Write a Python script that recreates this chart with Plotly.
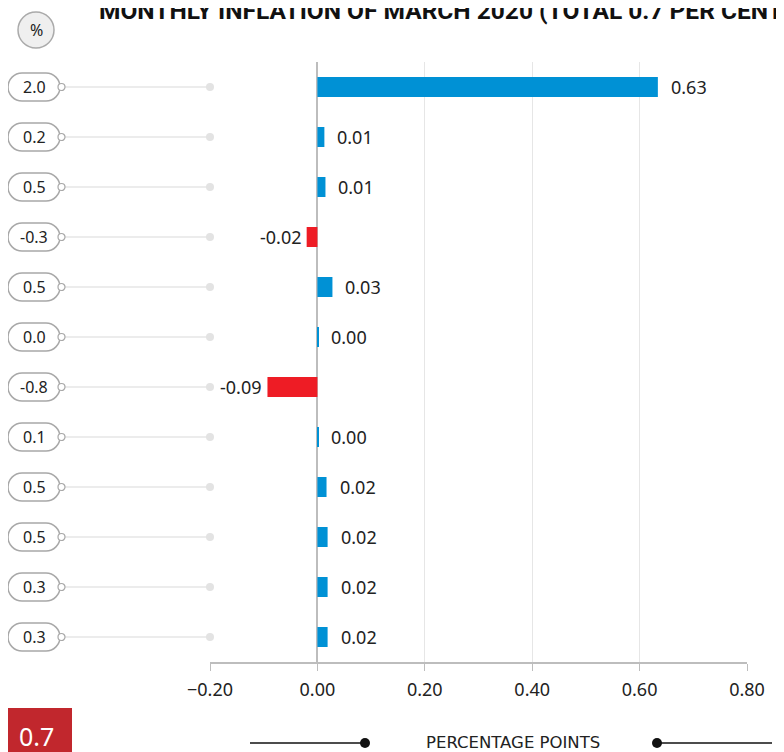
import plotly.graph_objects as go

# ---------------- data ----------------
change_pct = ["2.0", "0.2", "0.5", "-0.3", "0.5", "0.0", "-0.8", "0.1", "0.5", "0.5", "0.3", "0.3"]
contribution = [0.634, 0.013, 0.015, -0.02, 0.028, 0.002, -0.093, 0.002, 0.017, 0.019, 0.019, 0.019]
contribution_labels = ["0.63", "0.01", "0.01", "-0.02", "0.03", "0.00", "-0.09", "0.00", "0.02", "0.02", "0.02", "0.02"]
x_ticks = [-0.2, 0.0, 0.2, 0.4, 0.6, 0.8]
total_label = "0.7"
title_text = "MONTHLY INFLATION OF MARCH 2020 (TOTAL 0.7 PER CENT)"
unit_label = "PERCENTAGE POINTS"

# ---------------- layout helpers ----------------
W, H = 784, 752
OFF = 8  # page body margin of the browser
ML, MT = 202, 54
PW, PH = 537, 600
MR = W - ML - PW
MB = H - MT - PH


def px_x(p):
    """screen x pixel -> paper x"""
    return (p - OFF - ML) / PW


def px_y(p):
    """screen y pixel -> paper y"""
    return (MT + PH - (p - OFF)) / PH


BLUE = "#0091d5"
RED = "#ee1c25"
FONT = "Noto Sans, sans-serif"
TXT = "#222222"

rows = list(range(len(contribution)))
colors = [BLUE if v >= 0 else RED for v in contribution]

fig = go.Figure()
fig.add_trace(go.Bar(
    x=contribution, y=rows, orientation="h", width=0.4,
    marker=dict(color=colors, line=dict(width=0)),
    hoverinfo="skip", showlegend=False,
))
# dots on the -0.20 gridline
fig.add_trace(go.Scatter(
    x=[x_ticks[0]] * len(rows), y=rows, mode="markers",
    marker=dict(size=8, color="#e3e3e3"), cliponaxis=False,
    hoverinfo="skip", showlegend=False,
))


def stadium(w, h):
    r = h / 2
    k = 0.5523 * r
    hw = w / 2
    sx = hw - r
    return (f"M {-sx},{r} L {sx},{r} C {sx + k},{r} {hw},{k} {hw},0 "
            f"C {hw},{-k} {sx + k},{-r} {sx},{-r} L {-sx},{-r} "
            f"C {-sx - k},{-r} {-hw},{-k} {-hw},0 C {-hw},{k} {-sx - k},{r} {-sx},{r} Z")


shapes = []
annotations = []
pill_path = stadium(52, 28)
for i, lab in zip(rows, change_pct):
    shapes.append(dict(type="line", xref="paper", yref="y", x0=px_x(65), x1=0, y0=i, y1=i,
                       line=dict(color="#e6e6e6", width=1.5), layer="below"))
    shapes.append(dict(type="path", xref="paper", yref="y", xsizemode="pixel", ysizemode="pixel",
                       xanchor=px_x(34), yanchor=i, path=pill_path,
                       fillcolor="white", line=dict(color="#a8a8a8", width=1.5)))
    shapes.append(dict(type="circle", xref="paper", yref="y", xsizemode="pixel", ysizemode="pixel",
                       xanchor=px_x(61.5), yanchor=i, x0=-3.5, x1=3.5, y0=-3.5, y1=3.5,
                       fillcolor="white", line=dict(color="#a8a8a8", width=1.2)))
    annotations.append(dict(xref="paper", yref="y", x=px_x(34), y=i, text=lab, showarrow=False,
                            font=dict(family=FONT, size=16, color=TXT), xanchor="center", yanchor="middle"))

for i, v, lab in zip(rows, contribution, contribution_labels):
    if v >= 0:
        annotations.append(dict(x=v, y=i, xref="x", yref="y", text=lab, showarrow=False,
                                xanchor="left", xshift=11, yanchor="middle",
                                font=dict(family=FONT, size=18, color=TXT)))
    else:
        annotations.append(dict(x=v, y=i, xref="x", yref="y", text=lab, showarrow=False,
                                xanchor="right", xshift=-3, yanchor="middle",
                                font=dict(family=FONT, size=18, color=TXT)))

# "%" badge
shapes.append(dict(type="circle", xref="paper", yref="paper", xsizemode="pixel", ysizemode="pixel",
                   xanchor=px_x(36), yanchor=px_y(30), x0=-18, x1=18, y0=-18, y1=18,
                   fillcolor="#efefef", line=dict(color="#aaaaaa", width=1.5)))
annotations.append(dict(xref="paper", yref="paper", x=px_x(36), y=px_y(30), text="%", showarrow=False,
                        font=dict(family=FONT, size=16, color=TXT), xanchor="center", yanchor="middle"))

# title (partly cut off at the top, as in the reference)
annotations.append(dict(xref="paper", yref="paper", x=px_x(97), y=px_y(10), text=f"<b>{title_text}</b>",
                        showarrow=False, xanchor="left", yanchor="middle",
                        font=dict(family="Roboto, sans-serif", size=24.5, color="#111111")))

# total box
shapes.append(dict(type="rect", xref="paper", yref="paper", x0=px_x(0), x1=px_x(72), y0=px_y(708), y1=px_y(770),
                   fillcolor="#c1272d", line=dict(width=0)))
annotations.append(dict(xref="paper", yref="paper", x=px_x(36), y=px_y(736), text=total_label, showarrow=False,
                        font=dict(family=FONT, size=25, color="white"), xanchor="center", yanchor="middle"))

# unit label with lines and dots
annotations.append(dict(xref="paper", yref="paper", x=px_x(513), y=px_y(742), text=unit_label, showarrow=False,
                        font=dict(family="DejaVu Sans, sans-serif", size=16.5, color=TXT),
                        xanchor="center", yanchor="middle"))
shapes.append(dict(type="line", xref="paper", yref="paper", x0=px_x(250), x1=px_x(365), y0=px_y(743), y1=px_y(743),
                   line=dict(color="#111111", width=1.5)))
shapes.append(dict(type="line", xref="paper", yref="paper", x0=px_x(657), x1=px_x(772), y0=px_y(743), y1=px_y(743),
                   line=dict(color="#111111", width=1.5)))
for cx in (365, 657):
    shapes.append(dict(type="circle", xref="paper", yref="paper", xsizemode="pixel", ysizemode="pixel",
                       xanchor=px_x(cx), yanchor=px_y(743), x0=-5, x1=5, y0=-5, y1=5,
                       fillcolor="#111111", line=dict(width=0)))

fig.update_layout(
    width=W, height=H,
    margin=dict(l=ML, r=MR, t=MT, b=MB),
    paper_bgcolor="white", plot_bgcolor="white",
    font=dict(family=FONT, color=TXT),
    shapes=shapes, annotations=annotations,
    showlegend=False,
    bargap=0.5,
)
fig.update_xaxes(
    range=[-0.2, 0.8], tickvals=x_ticks, tickformat=".2f",
    showgrid=True, gridcolor="#e6e6e6", gridwidth=1,
    zeroline=True, zerolinecolor="#bdbdbd", zerolinewidth=2,
    showline=True, linecolor="#bdbdbd", linewidth=1.5,
    ticks="outside", ticklen=7, tickcolor="#bdbdbd",
    ticklabelstandoff=4,
    tickfont=dict(family=FONT, size=18, color=TXT),
    fixedrange=True,
)
fig.update_yaxes(
    range=[11.5, -0.5], showticklabels=False, showgrid=False, zeroline=False, showline=False,
    fixedrange=True,
)

fig.write_html("out.html")
